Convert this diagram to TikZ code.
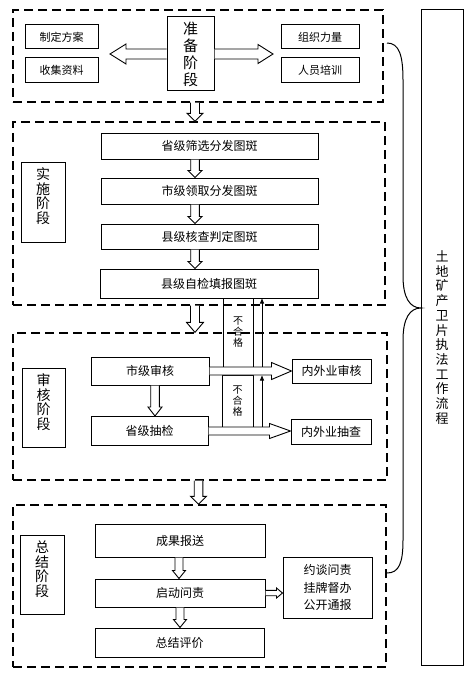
\documentclass[tikz,border=0pt]{standalone}
\usepackage{fontspec}
\setmainfont{Noto Sans CJK SC}
\usetikzlibrary{calc,arrows.meta}
\newcommand\barrow[5]{%
  \coordinate (bac) at ($(#2)!#5!(#1)$);
  \filldraw[blockarrow] ($(#1)!#3!90:(#2)$) -- ($(bac)!#3!90:(#2)$) -- ($(bac)!#4!90:(#2)$) -- (#2) -- ($(bac)!#4!-90:(#2)$) -- ($(bac)!#3!-90:(#2)$) -- ($(#1)!#3!-90:(#2)$);
}
\begin{document}
\begin{tikzpicture}[x=1pt,y=-1pt,
  box/.style={draw, line width=1pt, inner sep=0pt, font=\fontsize{12}{14}\selectfont},
  sbox/.style={box, font=\fontsize{11}{13}\selectfont},
  vlab/.style={label={[anchor=north, yshift=-6pt, align=center, inner sep=0pt, font=\fontsize{14}{14.6}\selectfont]north:{#1}}},
  vbox/.style={box},
  stage/.style={draw, line width=1.3pt, dash pattern=on 9pt off 5pt, inner sep=0pt},
  blockarrow/.style={draw, fill=white, line width=0.9pt, line join=miter},
  fb/.style={line width=0.9pt, -{Triangle[length=5pt,width=4pt]}},
  brace/.style={line width=1pt}]
\fill[white] (0,0) rectangle (474,674);
\useasboundingbox (0,0) rectangle (474,674);

% stage frames
\node[stage, minimum width=370pt, minimum height=92pt] (st1) at (198,56) {};
\node[stage, minimum width=372pt, minimum height=183pt] (st2) at (199,213.5) {};
\node[stage, minimum width=374pt, minimum height=147pt] (st3) at (200,406.5) {};
\node[stage, minimum width=373pt, minimum height=162pt] (st4) at (199.5,586) {};

% stage 1
\node[sbox, minimum width=73pt, minimum height=24pt] (zdfa) at (61.5,37) {制定方案};
\node[sbox, minimum width=73pt, minimum height=25pt] (sjzl) at (61.5,70.5) {收集资料};
\node[box, align=center, font=\fontsize{15}{17}\selectfont, minimum width=47pt, minimum height=74pt] (zbjd) at (190.5,54) {准\\备\\阶\\段};
\node[sbox, minimum width=78pt, minimum height=24pt] (zzll) at (320,37) {组织力量};
\node[sbox, minimum width=78pt, minimum height=25pt] (rypx) at (320,70.5) {人员培训};

% stage 2
\node[box, minimum width=217pt, minimum height=26pt] (s1) at (209.5,146) {省级筛选分发图斑};
\node[box, minimum width=217pt, minimum height=26pt] (s2) at (209.5,191) {市级领取分发图斑};
\node[box, minimum width=217pt, minimum height=25pt] (s3) at (209.5,236.5) {县级核查判定图斑};
\node[box, minimum width=218pt, minimum height=29pt] (s4) at (209,283.5) {县级自检填报图斑};
\node[vbox, vlab={实\\施\\阶\\段}, minimum width=44pt, minimum height=80pt] (ssjd) at (43,202) {};

% stage 3
\node[vbox, vlab={审\\核\\阶\\段}, minimum width=43pt, minimum height=79pt] (shjd) at (43.5,407.5) {};
\node[box, minimum width=118pt, minimum height=28pt] (sjsh) at (150,371) {市级审核};
\node[box, minimum width=117pt, minimum height=29pt] (sjcj) at (149.5,431) {省级抽检};
\node[box, minimum width=79pt, minimum height=24pt] (nwsh) at (331.5,371) {内外业审核};
\node[box, minimum width=80pt, minimum height=25pt] (nwcc) at (331,431.5) {内外业抽查};
\node[box, align=center, font=\fontsize{10}{11}\selectfont, minimum width=30pt, minimum height=69pt] (bhg1) at (238,332.5) {不\\合\\格};
\node[box, align=center, font=\fontsize{10}{11}\selectfont, minimum width=31pt, minimum height=52pt] (bhg2) at (237.5,401) {不\\合\\格};

% stage 4
\node[vbox, vlab={总\\结\\阶\\段}, minimum width=44pt, minimum height=79pt] (zjjd) at (42,574.5) {};
\node[box, minimum width=170pt, minimum height=33pt] (cgbs) at (180,540.5) {成果报送};
\node[box, minimum width=170pt, minimum height=28pt] (qdwz) at (180,593) {启动问责};
\node[box, minimum width=169pt, minimum height=29pt] (zjpj) at (179.5,642.5) {总结评价};
\node[box, align=center, font=\fontsize{12}{17.5}\selectfont, minimum width=89pt, minimum height=61pt] (ytwz) at (327.5,587.5) {约谈问责\\挂牌督办\\公开通报};

% overall
\node[box, align=center, font=\fontsize{13}{14.7}\selectfont, minimum width=42pt, minimum height=655pt] (tall) at (442,337.5) {土\\地\\矿\\产\\卫\\片\\执\\法\\工\\作\\流\\程};

% coordinates
\coordinate (xA) at (195,0);
\coordinate (xB) at (198.5,0);
\coordinate (xC) at (155,0);
\coordinate (xD) at (179,0);
\coordinate (xE) at (180,0);
\coordinate (lt) at (110,54);
\coordinate (rt) at (273,54);

% block arrows
\barrow{zbjd.west}{lt}{5pt}{10pt}{16pt}
\barrow{zbjd.east}{rt}{5pt}{9.5pt}{15pt}
\barrow{st1.south -| xA}{st2.north -| xA}{4.5pt}{8pt}{8pt}
\barrow{s1.south -| xA}{s2.north -| xA}{4.3pt}{7pt}{7pt}
\barrow{s2.south -| xA}{s3.north -| xA}{4.3pt}{7pt}{7pt}
\barrow{s3.south -| xA}{s4.north -| xA}{4.3pt}{7pt}{7pt}
\barrow{st2.south -| xA}{st3.north -| xA}{4.5pt}{8.5pt}{10pt}
\barrow{sjsh.south -| xC}{sjcj.north -| xC}{4.3pt}{7pt}{9pt}
\barrow{sjsh.east}{nwsh.west |- sjsh.east}{4pt}{8.5pt}{20pt}
\barrow{sjcj.east}{nwcc.west |- sjcj.east}{4pt}{7.5pt}{21pt}
\barrow{st3.south -| xB}{st4.north -| xB}{4.3pt}{8pt}{8pt}
\barrow{cgbs.south -| xD}{qdwz.north -| xD}{4pt}{6.5pt}{8pt}
\barrow{qdwz.south -| xE}{zjpj.north -| xE}{4pt}{6.5pt}{8pt}
\barrow{qdwz.east}{ytwz.west |- qdwz.east}{2.7pt}{5pt}{6pt}

% feedback lines
\coordinate (f1) at (262,427);
\coordinate (f2) at (262,375.5);
\coordinate (f3) at (262,366.5);
\draw[fb] (f1) -- (f2);
\draw[fb] (f3) -- (f3 |- s4.south);

% brace
\coordinate (bt) at (387,43);
\coordinate (tip) at (421,308);
\coordinate (bb) at (387,573);
\draw[brace] (bt) .. controls (399,43) and (403,55) .. (403,80) -- (403,276)
  .. controls (403,298) and (410,308) .. (tip)
  .. controls (410,308) and (403,318) .. (403,340) -- (403,540)
  .. controls (403,563) and (399,573) .. (bb);
\end{tikzpicture}
\end{document}
